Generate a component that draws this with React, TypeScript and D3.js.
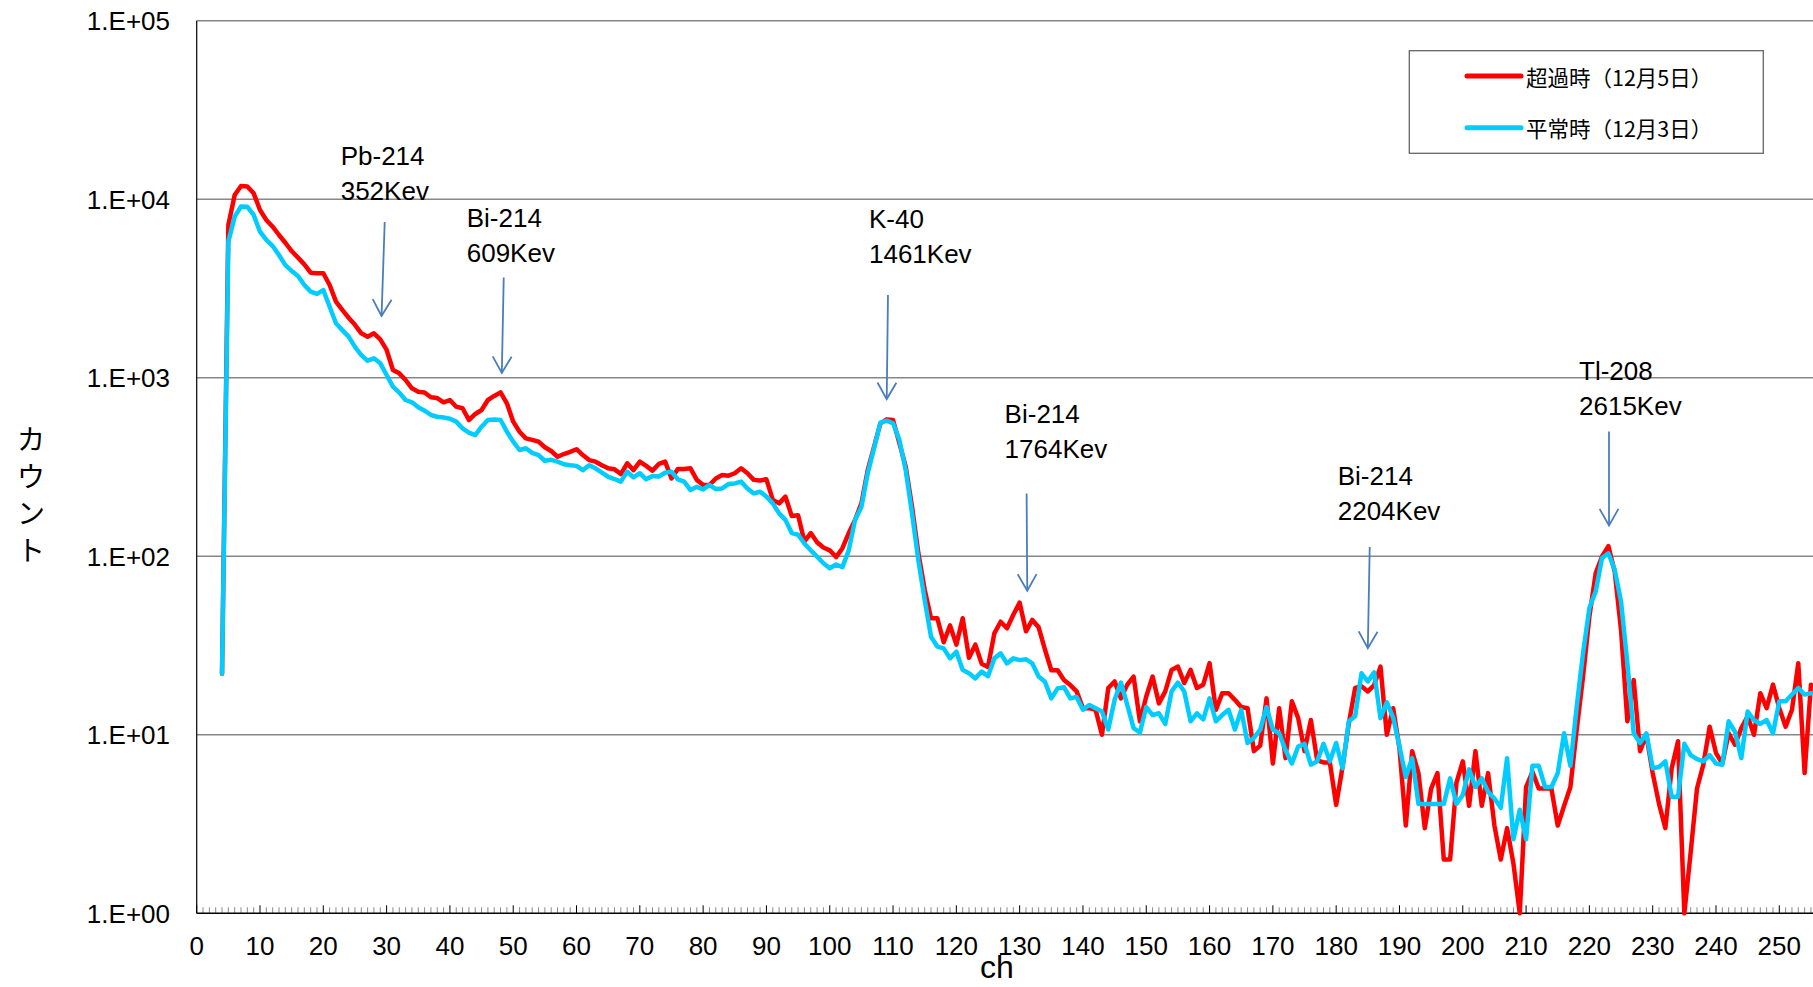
import * as d3 from 'd3'

// spectrum starts at channel 4 (first non-zero bin)
const firstChannel = 4

// 超過時 (Dec 5) counts, ch 4..255
const excessCounts = [
  22, 7180, 10570, 11880, 11800, 10800, 8710, 7660, 7020, 6310,
  5710, 5130, 4710, 4320, 3880, 3850, 3850, 3310, 2670, 2400,
  2170, 1980, 1775, 1700, 1775, 1643, 1432, 1106, 1059, 972,
  873, 836, 827, 778, 770, 729, 751, 689, 675, 580,
  627, 660, 751, 791, 829, 720, 568, 499, 458, 449,
  439, 408, 389, 361, 374, 385, 398, 369, 346, 339,
  324, 311, 307, 289, 332, 304, 339, 321, 302, 329,
  339, 273, 308, 308, 311, 268, 251, 251, 273, 285,
  283, 292, 311, 292, 268, 266, 270, 207, 198, 216,
  168, 170, 121, 135, 120, 112, 108, 99, 111, 135,
  160, 198, 304, 411, 556, 585, 580, 430, 318, 190,
  104, 65, 45, 45, 33, 41, 32, 45, 27, 32,
  25, 24, 37, 43, 39.5, 47, 55, 38, 44, 40,
  30, 23, 23, 20.3, 19, 17.5, 14.1, 14.1, 13.8, 10,
  18.3, 19.9, 16, 19.1, 21.2, 11.9, 16.4, 21.2, 15, 17.5,
  23.1, 24.1, 19.5, 23.1, 18.3, 19.1, 25.2, 13.8, 17.1, 17.1,
  15.7, 14.3, 14.1, 8.1, 8.7, 16, 6.9, 14.1, 7.4, 15.4,
  12.4, 8.1, 12.1, 7.2, 7, 7, 4.05, 6.6, 11.6, 18.3,
  18.7, 17.5, 19, 24.1, 10, 14.1, 8.4, 3.1, 8.1, 6.1,
  3.0, 5.0, 6.1, 2.0, 2.0, 5.4, 7.1, 4.0, 8.1, 4.0,
  6.1, 3.1, 2.0, 3.0, 1.9, 1.0, 5.1, 6.2, 5.0, 5.0,
  5.0, 3.1, 4.0, 5.1, 10.7, 21.2, 46, 80.5, 99.8, 114,
  82, 38.7, 11.9, 20.3, 8.1, 10, 6.1, 4.1, 3.0, 6.5,
  9.2, 1.0, 2.2, 5.0, 6.8, 11.1, 7.9, 6.9, 10.2, 8.8,
  10.9, 12.7, 10, 17.1, 14.1, 19.1, 14.1, 11.1, 13.8, 25.2,
  6.1, 19.1,
]

// 平常時 (Dec 3) counts, ch 4..255
const normalCounts = [
  22, 5790, 8000, 9120, 9080, 8170, 6580, 5920, 5470, 4870,
  4280, 3970, 3720, 3310, 3040, 2950, 3100, 2500, 2020, 1850,
  1700, 1490, 1340, 1247, 1286, 1205, 1037, 892, 826, 751,
  729, 684, 654, 619, 605, 600, 590, 568, 521, 493,
  478, 532, 580, 584, 580, 499, 439, 394, 403, 380,
  369, 343, 347, 339, 328, 324, 321, 304, 324, 311,
  294, 279, 271, 262, 298, 277, 292, 270, 282, 280,
  294, 298, 270, 262, 235, 245, 237, 251, 238, 240,
  254, 256, 262, 240, 225, 230, 216, 198, 174, 160,
  135, 132, 118, 108, 99.5, 91.4, 85.7, 90, 87, 108,
  160, 189, 292, 403, 560, 575, 556, 449, 304, 174,
  95, 57, 35.4, 31.2, 30.5, 26.8, 29.2, 23.1, 22.1, 20.7,
  22.6, 21.3, 26.8, 28.6, 25.1, 26.8, 26.2, 26.5, 25.1, 21.2,
  19.8, 16, 18.2, 18.5, 16, 16.3, 13.8, 14.7, 14.1, 13.5,
  10.7, 15.7, 19.6, 14.7, 10.9, 10.3, 14.3, 12.9, 13.2, 11.5,
  17.5, 19.6, 17.5, 11.9, 13.2, 12.2, 16, 11.9, 12.9, 13.8,
  10.7, 13.8, 9, 9.6, 10.7, 14.3, 10.7, 10.2, 8.2, 6.9,
  8.6, 8.9, 6.8, 7.1, 8.9, 7.1, 9, 6.5, 11.9, 12.7,
  22.1, 19.9, 22.4, 12.4, 15.2, 12.5, 8.6, 5.8, 7.4, 4.1,
  4.1, 4.1, 4.1, 4.1, 5.7, 4.1, 4.6, 6.4, 5.1, 5.7,
  4.8, 4.4, 3.9, 7.4, 2.6, 3.8, 2.6, 6.7, 6.7, 5.1,
  5.1, 6.1, 10.2, 6.7, 14.4, 28.7, 51.3, 63.6, 97.8, 104,
  84, 55.8, 25.2, 10.2, 9, 10.2, 6.5, 6.6, 7.1, 4.5,
  4.5, 8.9, 7.7, 7.3, 7.1, 7.7, 6.9, 6.8, 11.9, 10.4,
  7.4, 13.5, 12.1, 11.5, 12.1, 10.2, 15.4, 15.4, 16.8, 18.3,
  16.8, 17.1,
]

const seriesNames = ['超過時（12月5日）', '平常時（12月3日）']
const seriesColors = ['#FF0000', '#00CCFF']

const yTicks = [1, 10, 100, 1000, 10000, 100000]
const xTicks = [0, 10, 20, 30, 40, 50, 60, 70, 80, 90, 100, 110, 120, 130, 140, 150, 160, 170, 180, 190, 200, 210, 220, 230, 240, 250]

// peak annotations
const peakNames = ['Pb-214', 'Bi-214', 'K-40', 'Bi-214', 'Bi-214', 'Tl-208']
const peakEnergies = ['352Kev', '609Kev', '1461Kev', '1764Kev', '2204Kev', '2615Kev']
const arrowTailCh = [29.7, 48.5, 109.2, 131.1, 185.3, 223.1]
const arrowTipCh = [29.2, 48.2, 109.0, 131.2, 185.0, 223.1]
const arrowTailCount = [7460, 3650, 2910, 225, 112.8, 501]
const arrowTipCount = [2220, 1064, 760, 64.2, 30.6, 149]

// label offset from arrow tail (px): left edge, baseline of energy line
const labelOffsets: [number, number][] = [[-44, -22], [-37, -15], [-19, -32], [-22, -35], [-32, -27], [-30, -16]]

const W = 1813
const H = 987
const FONT = '"Liberation Sans", Arial, sans-serif'
const JP = '"Noto Sans CJK JP", sans-serif'

export default function App() {
  const x = d3.scaleLinear().domain([0, 250]).range([196.7, 1779.3])
  const y = d3.scaleLog().domain([1, 100000]).range([913.3, 20.8])
  const left = x(0)
  const bottom = y(1)

  const line = d3
    .line<number>()
    .x((_, i) => x(firstChannel + i))
    .y((d) => y(d))

  const minorTicks = d3.range(0, 258)

  return (
    <div style={{ position: 'absolute', left: 0, top: 0 }}>
      <svg width={W} height={H} style={{ display: 'block', background: '#fff' }}>
        {/* gridlines */}
        {yTicks.slice(1).map((t) => (
          <line key={t} x1={left} x2={W} y1={y(t)} y2={y(t)} stroke="#878787" strokeWidth={1.4} />
        ))}

        {/* y tick labels */}
        {yTicks.map((t) => (
          <text key={t} x={170} y={y(t) + 9.5} textAnchor="end" fontFamily={FONT} fontSize={26} fill="#000">
            {`1.E+0${Math.round(Math.log10(t))}`}
          </text>
        ))}

        {/* x minor / major ticks */}
        {minorTicks.map((c) => (
          <line
            key={c}
            x1={x(c)}
            x2={x(c)}
            y1={bottom}
            y2={bottom - (c % 10 === 0 ? 8 : 6)}
            stroke={c % 10 === 0 ? '#000' : '#8a8a8a'}
            strokeWidth={1}
          />
        ))}
        {xTicks.map((t) => (
          <text key={t} x={x(t)} y={955} textAnchor="middle" fontFamily={FONT} fontSize={26} fill="#000">
            {t}
          </text>
        ))}

        {/* axes */}
        <line x1={left} x2={left} y1={y(100000)} y2={bottom} stroke="#000" strokeWidth={1.2} />
        <line x1={left} x2={W} y1={bottom} y2={bottom} stroke="#000" strokeWidth={1.4} />

        {/* series */}
        {[excessCounts, normalCounts].map((s, i) => (
          <path
            key={i}
            d={line(s) ?? ''}
            fill="none"
            stroke={seriesColors[i]}
            strokeWidth={4.5}
            strokeLinejoin="round"
            strokeLinecap="round"
          />
        ))}

        {/* peak annotations */}
        {peakNames.map((name, i) => {
          const tx = x(arrowTailCh[i])
          const ty = y(arrowTailCount[i])
          const px = x(arrowTipCh[i])
          const py = y(arrowTipCount[i])
          const ang = Math.atan2(py - ty, px - tx)
          const hl = 19
          const spread = 0.52
          const w1x = px - hl * Math.cos(ang - spread)
          const w1y = py - hl * Math.sin(ang - spread)
          const w2x = px - hl * Math.cos(ang + spread)
          const w2y = py - hl * Math.sin(ang + spread)
          const [dx, dy] = labelOffsets[i]
          return (
            <g key={i}>
              <line x1={tx} y1={ty} x2={px} y2={py} stroke="#4A7EBB" strokeWidth={1.8} />
              <polyline
                points={`${w1x},${w1y} ${px},${py} ${w2x},${w2y}`}
                fill="none"
                stroke="#4A7EBB"
                strokeWidth={1.8}
              />
              <text x={tx + dx} y={ty + dy - 35} fontFamily={FONT} fontSize={26} fill="#000">
                {name}
              </text>
              <text x={tx + dx} y={ty + dy} fontFamily={FONT} fontSize={26} fill="#000">
                {peakEnergies[i]}
              </text>
            </g>
          )
        })}

        {/* legend */}
        <rect x={1409.3} y={50.7} width={354} height={102.6} fill="#fff" stroke="#666" strokeWidth={1.3} />
        {seriesNames.map((n, i) => (
          <g key={n} transform={`translate(0,${76 + i * 51.7})`}>
            <line x1={1467} x2={1521} y1={0} y2={0} stroke={seriesColors[i]} strokeWidth={5} strokeLinecap="round" />
            <text x={1526} y={0} dominantBaseline="central" fontFamily={JP} fontSize={21.5} fill="#000">
              {n}
            </text>
          </g>
        ))}

        {/* axis titles */}
        <text x={997} y={978} textAnchor="middle" fontFamily={FONT} fontSize={32} fill="#000">
          ch
        </text>
        {['カ', 'ウ', 'ン', 'ト'].map((c, i) => (
          <text
            key={i}
            x={31}
            y={438 + i * 37}
            textAnchor="middle"
            dominantBaseline="central"
            fontFamily={JP}
            fontSize={28}
            fill="#000"
          >
            {c}
          </text>
        ))}
      </svg>
    </div>
  )
}
